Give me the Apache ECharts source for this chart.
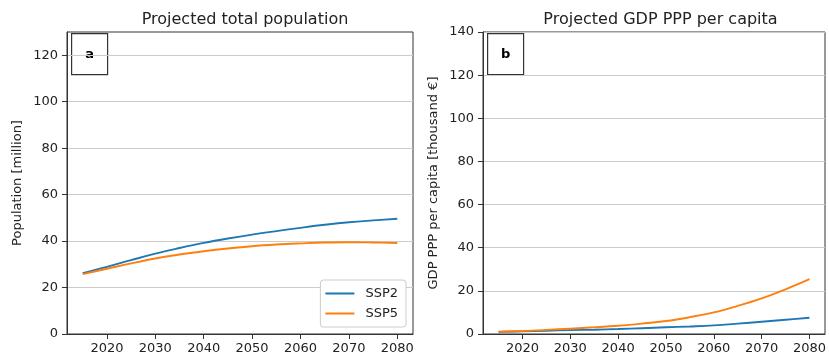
<!DOCTYPE html>
<html>
<head>
<meta charset="utf-8">
<script src="https://cdn.jsdelivr.net/npm/echarts@6/dist/echarts.min.js"></script>
<style>
  html, body { margin: 0; padding: 0; background: #fff; }
  #chart { width: 829px; height: 359px; }
</style>
</head>
<body>
<div id="chart"></div>
<script>
// Projection years (5-year steps)
const years = [2015, 2020, 2025, 2030, 2035, 2040, 2045, 2050, 2055, 2060, 2065, 2070, 2075, 2080];

// Total population [million]
const popSSP2 = [26.2, 28.9, 31.8, 34.6, 37.0, 39.2, 41.1, 42.8, 44.3, 45.7, 47.0, 48.1, 48.9, 49.6];
const popSSP5 = [25.8, 28.1, 30.4, 32.5, 34.2, 35.6, 36.8, 37.8, 38.5, 39.0, 39.4, 39.5, 39.4, 39.2];

// GDP PPP per capita [thousand €]
const gdpSSP2 = [1.0, 1.2, 1.5, 1.8, 2.0, 2.3, 2.7, 3.1, 3.5, 4.0, 4.8, 5.7, 6.6, 7.5];
const gdpSSP5 = [1.1, 1.4, 1.9, 2.5, 3.1, 3.8, 4.8, 6.0, 7.8, 10.0, 13.0, 16.5, 20.7, 25.4];

const xTicks = [2020, 2030, 2040, 2050, 2060, 2070, 2080];
const popTicks = [0, 20, 40, 60, 80, 100, 120];
const gdpTicks = [0, 20, 40, 60, 80, 100, 120, 140];

const titles = ['Projected total population', 'Projected GDP PPP per capita'];
const yNames = ['Population [million]', 'GDP PPP per capita [thousand €]'];
const panelLetters = ['a', 'b'];
const seriesNames = ['SSP2', 'SSP5'];

const FONT = 'DejaVu Sans';
const TEXT = '#222';
const AXIS = '#333';
const GRIDLINE = '#cccccc';
const BLUE = '#1f77b4';
const ORANGE = '#ff7f0e';

const pairs = (xs, ys) => xs.map((x, i) => [x, ys[i]]);

const grids = [
  { left: 67, top: 32, width: 346, height: 302 },
  { left: 483, top: 32, width: 345, height: 302 }
];

function xAxisFor(gi) {
  return {
    type: 'value', gridIndex: gi, min: 2011.75, max: 2083.25,
    axisLine: { show: true, lineStyle: { color: AXIS, width: 1 } },
    axisTick: { show: true, inside: false, length: 5, customValues: xTicks, lineStyle: { color: AXIS } },
    axisLabel: { customValues: xTicks, formatter: v => String(Math.round(v)),
      color: TEXT, fontFamily: FONT, fontSize: 13, margin: 8 },
    splitLine: { show: false }
  };
}

function yAxisFor(gi, max, ticks) {
  return {
    type: 'value', gridIndex: gi, min: 0, max: max, interval: 20,
    name: yNames[gi], nameLocation: 'middle', nameGap: 43, nameRotate: 90,
    nameTextStyle: { color: TEXT, fontFamily: FONT, fontSize: 13 },
    axisLine: { show: true, lineStyle: { color: AXIS, width: 1 } },
    axisTick: { show: true, inside: false, length: 5, customValues: ticks, lineStyle: { color: AXIS } },
    axisLabel: { customValues: ticks, formatter: v => String(Math.round(v)),
      color: TEXT, fontFamily: FONT, fontSize: 13, margin: 9 },
    splitLine: { show: true, lineStyle: { color: GRIDLINE, width: 1 } }
  };
}

function lineSeries(name, gi, ys, color) {
  return {
    name: name, type: 'line', xAxisIndex: gi, yAxisIndex: gi,
    data: pairs(years, ys), smooth: 0.4, showSymbol: false, symbol: 'none',
    lineStyle: { color: color, width: 1.9 }, itemStyle: { color: color },
    emphasis: { disabled: true }, animation: false
  };
}

// Boxed panel letters in the upper-left corners
function letterBox(letter, g) {
  return {
    type: 'group', left: g.left + 4, top: g.top + 1,
    children: [
      { type: 'rect', shape: { x: 0, y: 0, width: 36, height: 41 },
        style: { fill: '#fff', stroke: AXIS, lineWidth: 1.2 } },
      { type: 'text', x: 18, y: 21,
        style: { text: letter, fill: '#000', font: 'bold 13px "DejaVu Sans"', align: 'center', verticalAlign: 'middle' } }
    ]
  };
}

const option = {
  backgroundColor: '#fff',
  animation: false,
  textStyle: { fontFamily: FONT },
  title: titles.map((t, i) => ({
    text: t, left: grids[i].left + grids[i].width / 2, top: 7, textAlign: 'center',
    textStyle: { color: TEXT, fontFamily: FONT, fontSize: 16, fontWeight: 'normal' }
  })),
  grid: grids.map(g => Object.assign({ show: true, borderColor: AXIS, borderWidth: 1, backgroundColor: 'transparent' }, g)),
  xAxis: [xAxisFor(0), xAxisFor(1)],
  yAxis: [yAxisFor(0, 130, popTicks), yAxisFor(1, 140, gdpTicks)],
  legend: {
    data: seriesNames,
    orient: 'vertical', right: 423, bottom: 32,
    backgroundColor: '#fff', borderColor: '#cccccc', borderWidth: 1, borderRadius: 3,
    padding: [7, 8, 7, 5], itemGap: 7, itemWidth: 29, itemHeight: 2, icon: 'rect',
    textStyle: { color: TEXT, fontFamily: FONT, fontSize: 13, padding: [0, 0, 0, 6] },
    selectedMode: false
  },
  series: [
    lineSeries(seriesNames[0], 0, popSSP2, BLUE),
    lineSeries(seriesNames[1], 0, popSSP5, ORANGE),
    lineSeries(seriesNames[0], 1, gdpSSP2, BLUE),
    lineSeries(seriesNames[1], 1, gdpSSP5, ORANGE)
  ],
  graphic: panelLetters.map((l, i) => letterBox(l, grids[i]))
};

const chart = echarts.init(document.getElementById('chart'), null, { renderer: 'canvas' });
chart.setOption(option);
</script>
</body>
</html>
